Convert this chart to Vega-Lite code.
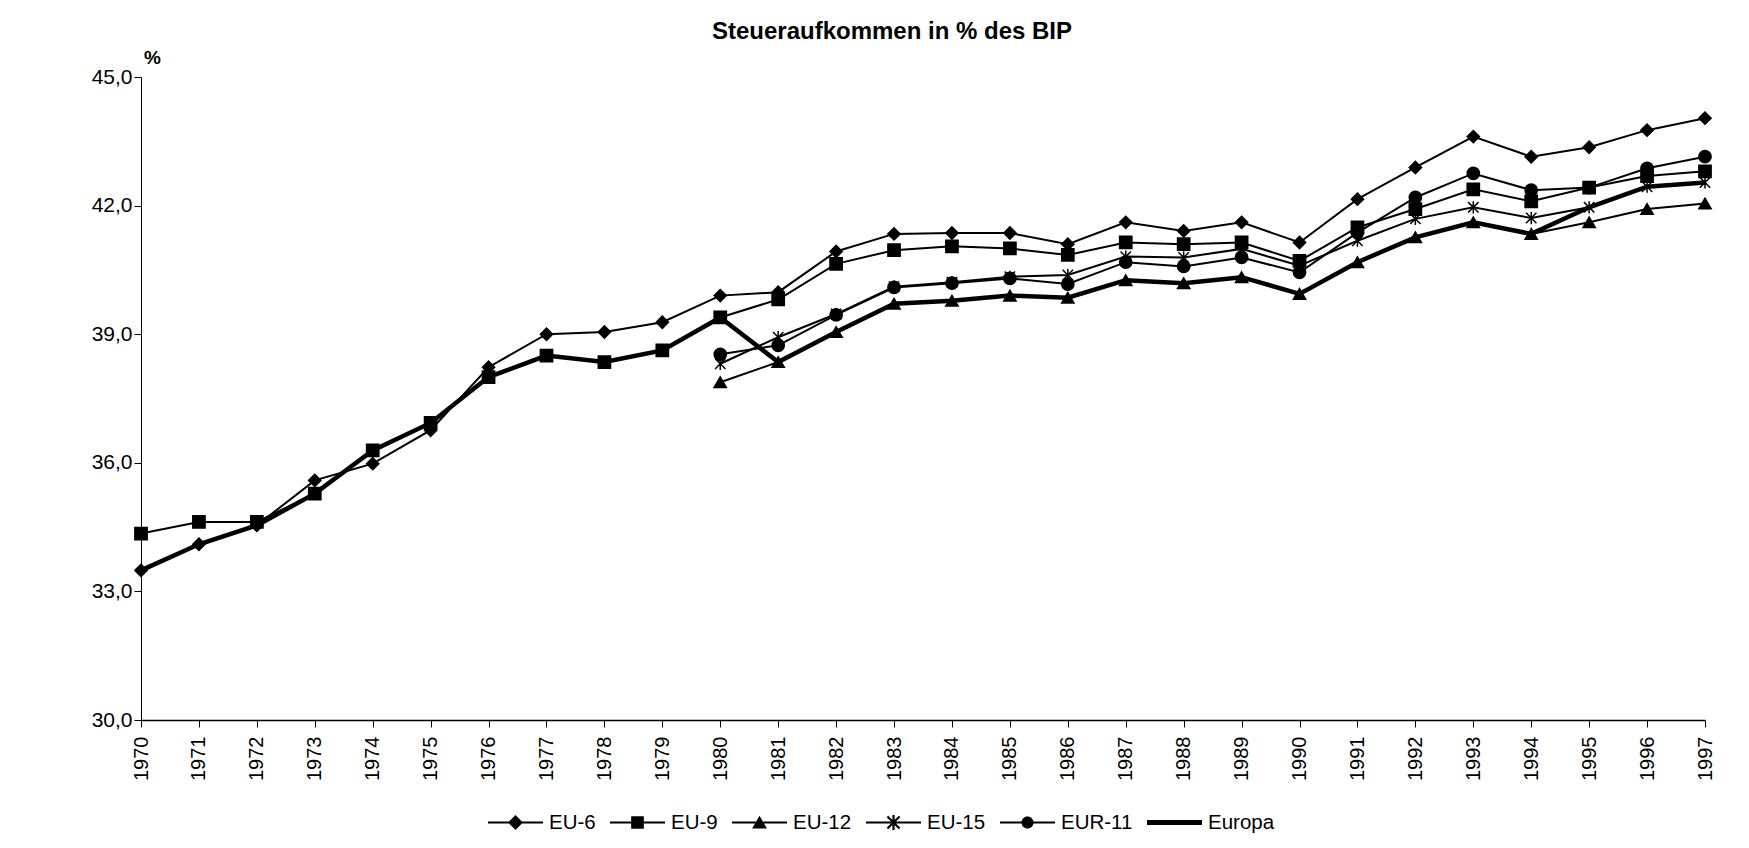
{
  "$schema": "https://vega.github.io/schema/vega-lite/v6.json",
  "width": 1564,
  "height": 643,
  "autosize": {"type": "none"},
  "padding": {"left": 141, "top": 77, "right": 44, "bottom": 128},
  "background": "white",
  "title": {"text": "Steueraufkommen in % des BIP", "font": "Liberation Sans", "fontSize": 24, "fontWeight": "bold", "color": "black", "anchor": "middle", "dx": -31, "dy": 18, "offset": 22},
  "config": {
    "locale": {"number": {"decimal": ",", "thousands": ".", "grouping": [3], "currency": ["", " €"]}},
    "view": {"stroke": null},
    "font": "Liberation Sans",
    "axis": {"grid": false, "domainColor": "black", "tickColor": "black", "labelColor": "black", "titleColor": "black", "labelFont": "Liberation Sans", "titleFont": "Liberation Sans"}
  },
  "data": {"values": [
    {"year": 1970, "EU-6": 33.49, "EU-9": 34.35, "Europa": 33.49},
    {"year": 1971, "EU-6": 34.10, "EU-9": 34.62, "Europa": 34.10},
    {"year": 1972, "EU-6": 34.54, "EU-9": 34.62, "Europa": 34.54},
    {"year": 1973, "EU-6": 35.59, "EU-9": 35.28, "Europa": 35.28},
    {"year": 1974, "EU-6": 35.98, "EU-9": 36.29, "Europa": 36.29},
    {"year": 1975, "EU-6": 36.76, "EU-9": 36.93, "Europa": 36.93},
    {"year": 1976, "EU-6": 38.23, "EU-9": 38.00, "Europa": 38.00},
    {"year": 1977, "EU-6": 39.00, "EU-9": 38.50, "Europa": 38.50},
    {"year": 1978, "EU-6": 39.05, "EU-9": 38.35, "Europa": 38.35},
    {"year": 1979, "EU-6": 39.28, "EU-9": 38.62, "Europa": 38.62},
    {"year": 1980, "EU-6": 39.90, "EU-9": 39.39, "EU-12": 37.88, "EU-15": 38.31, "EUR-11": 38.53, "Europa": 39.39},
    {"year": 1981, "EU-6": 39.98, "EU-9": 39.81, "EU-12": 38.35, "EU-15": 38.93, "EUR-11": 38.74, "Europa": 38.35},
    {"year": 1982, "EU-6": 40.93, "EU-9": 40.64, "EU-12": 39.05, "EU-15": 39.47, "EUR-11": 39.45, "Europa": 39.05},
    {"year": 1983, "EU-6": 41.34, "EU-9": 40.96, "EU-12": 39.71, "EU-15": 40.11, "EUR-11": 40.09, "Europa": 39.71},
    {"year": 1984, "EU-6": 41.36, "EU-9": 41.05, "EU-12": 39.78, "EU-15": 40.21, "EUR-11": 40.19, "Europa": 39.78},
    {"year": 1985, "EU-6": 41.36, "EU-9": 41.00, "EU-12": 39.90, "EU-15": 40.34, "EUR-11": 40.30, "Europa": 39.90},
    {"year": 1986, "EU-6": 41.10, "EU-9": 40.85, "EU-12": 39.85, "EU-15": 40.38, "EUR-11": 40.17, "Europa": 39.85},
    {"year": 1987, "EU-6": 41.61, "EU-9": 41.14, "EU-12": 40.26, "EU-15": 40.81, "EUR-11": 40.68, "Europa": 40.26},
    {"year": 1988, "EU-6": 41.41, "EU-9": 41.10, "EU-12": 40.19, "EU-15": 40.79, "EUR-11": 40.58, "Europa": 40.19},
    {"year": 1989, "EU-6": 41.61, "EU-9": 41.14, "EU-12": 40.33, "EU-15": 40.99, "EUR-11": 40.79, "Europa": 40.33},
    {"year": 1990, "EU-6": 41.14, "EU-9": 40.71, "EU-12": 39.94, "EU-15": 40.60, "EUR-11": 40.44, "Europa": 39.94},
    {"year": 1991, "EU-6": 42.15, "EU-9": 41.49, "EU-12": 40.68, "EU-15": 41.18, "EUR-11": 41.37, "Europa": 40.68},
    {"year": 1992, "EU-6": 42.89, "EU-9": 41.92, "EU-12": 41.26, "EU-15": 41.69, "EUR-11": 42.19, "Europa": 41.26},
    {"year": 1993, "EU-6": 43.61, "EU-9": 42.38, "EU-12": 41.61, "EU-15": 41.96, "EUR-11": 42.75, "Europa": 41.61},
    {"year": 1994, "EU-6": 43.14, "EU-9": 42.10, "EU-12": 41.34, "EU-15": 41.71, "EUR-11": 42.36, "Europa": 41.34},
    {"year": 1995, "EU-6": 43.36, "EU-9": 42.42, "EU-12": 41.61, "EU-15": 41.96, "EUR-11": 42.42, "Europa": 41.96},
    {"year": 1996, "EU-6": 43.76, "EU-9": 42.69, "EU-12": 41.92, "EU-15": 42.44, "EUR-11": 42.87, "Europa": 42.44},
    {"year": 1997, "EU-6": 44.04, "EU-9": 42.80, "EU-12": 42.05, "EU-15": 42.54, "EUR-11": 43.14, "Europa": 42.54}
  ]},
  "transform": [
    {"fold": ["EU-6", "EU-9", "EU-12", "EU-15", "EUR-11", "Europa"], "as": ["series", "value"]},
    {"filter": "isValid(datum.value)"}
  ],
  "encoding": {
    "x": {"field": "year", "type": "ordinal", "scale": {"type": "point", "padding": 0},
      "axis": {"title": null, "labelAngle": 270, "labelFontSize": 20, "tickSize": 7, "labelPadding": 9, "domainWidth": 1.5, "tickWidth": 1}},
    "y": {"field": "value", "type": "quantitative", "scale": {"domain": [30, 45], "nice": false, "zero": false},
      "axis": {"values": [30, 33, 36, 39, 42, 45], "format": ".1f", "title": "%", "titleAngle": 0, "titleX": 11, "titleY": -20, "titleAlign": "center", "titleBaseline": "middle", "titleFontSize": 19, "titleFontWeight": "bold", "labelFontSize": 21, "tickSize": 7, "labelPadding": 2}}
  },
  "layer": [
    {
      "transform": [{"filter": "datum.series !== 'Europa'"}],
      "mark": {"type": "line", "color": "black", "strokeWidth": 2},
      "encoding": {"detail": {"field": "series"}}
    },
    {
      "transform": [{"filter": "datum.series === 'Europa'"}],
      "mark": {"type": "line", "color": "black", "strokeWidth": 4.5},
      "encoding": {}
    },
    {
      "transform": [{"filter": "datum.series !== 'Europa'"}],
      "mark": {"type": "point", "filled": true, "fill": "black", "stroke": "black", "strokeWidth": 1.5, "size": 150, "opacity": 1},
      "encoding": {
        "shape": {"field": "series", "type": "nominal",
          "scale": {"domain": ["EU-6", "EU-9", "EU-12", "EU-15", "EUR-11"],
            "range": ["diamond", "square", "triangle-up", "M0,-1V1M-0.85,-0.85L0.85,0.85M-0.85,0.85L0.85,-0.85", "circle"]},
          "legend": null}
      }
    },
    {
      "mark": {"type": "point", "filled": true, "color": "black", "opacity": 0, "size": 10},
      "encoding": {
        "shape": {"field": "series", "type": "nominal",
          "scale": {"domain": ["EU-6", "EU-9", "EU-12", "EU-15", "EUR-11", "Europa"],
            "range": [
              "M-1,-0.04H1V0.04H-1ZM0,-0.27L0.27,0L0,0.27L-0.27,0Z",
              "M-1,-0.04H1V0.04H-1ZM-0.23,-0.23H0.23V0.23H-0.23Z",
              "M-1,-0.04H1V0.04H-1ZM0,-0.25L0.27,0.22L-0.27,0.22Z",
              "M-1,-0.04H1V0.04H-1ZM-0.04,-0.27H0.04V0.27H-0.04ZM-0.192,-0.248L0.248,0.192L0.192,0.248L-0.248,-0.192ZM-0.248,0.192L0.192,-0.248L0.248,-0.192L-0.192,0.248Z",
              "M-1,-0.04H1V0.04H-1ZM0.22,0A0.22,0.22 0 1,1 -0.22,0A0.22,0.22 0 1,1 0.22,0Z",
              "M-1,-0.09H1V0.09H-1Z"
            ]},
          "legend": {"title": null, "orient": "none", "legendX": 346, "legendY": 717, "direction": "horizontal", "columns": 6,
            "symbolSize": 3025, "labelFontSize": 20.5, "labelFont": "Liberation Sans", "labelColor": "black", "labelOffset": 5, "columnPadding": 11,
            "symbolOpacity": 1, "symbolFillColor": "black"}
        }
      }
    }
  ],
  "resolve": {"scale": {"shape": "independent"}}
}
